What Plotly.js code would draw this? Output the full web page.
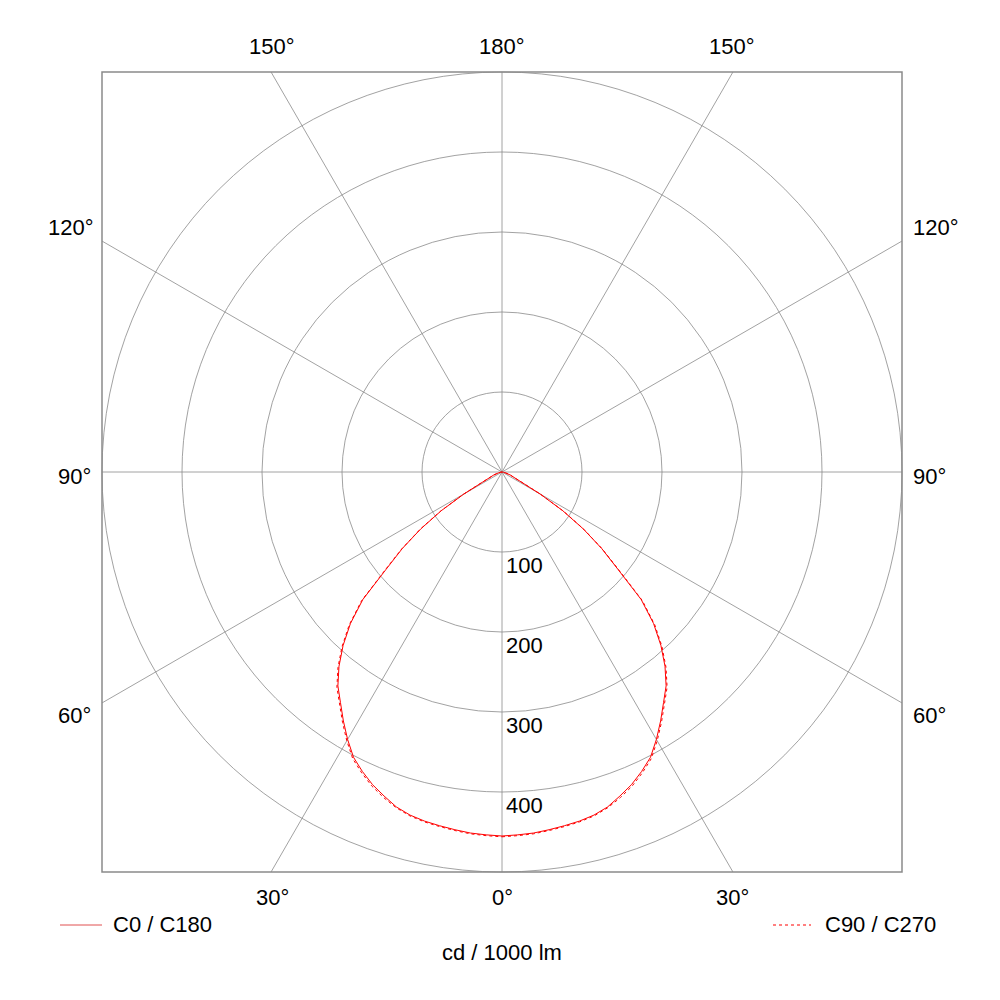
<!DOCTYPE html>
<html>
<head>
<meta charset="utf-8">
<script src="https://cdn.plot.ly/plotly-3.0.1.min.js"></script>
<style>html,body{margin:0;padding:0;background:#fff;}#chart{width:1000px;height:1000px;}</style>
</head>
<body>
<div id="chart"></div>
<script>
// Gamma angles (degrees) and luminous intensity (cd / 1000 lm)
const gamma = [0, 2.5, 5, 7.5, 10, 12.5, 15, 17.5, 20, 22.5, 25, 27.5, 30, 32.5, 35, 37.5, 40, 42.5, 45, 47.5, 50, 52.5, 55, 57.5, 60, 62.5, 65, 70, 75, 80, 85, 90, 120, 150, 180];
const c0c180 = [455, 454, 453, 451, 449, 447, 444, 439, 431, 423, 413, 402, 386, 369, 352, 337, 317, 294, 268, 236, 189, 157, 124, 90, 55, 27, 18, 11, 5, 2, 0, 0, 0, 0, 0];
const c90c270 = [456, 455, 454, 452, 450, 448, 445, 440, 433, 425, 415, 404, 388, 371, 354, 339, 319, 296, 270, 238, 191, 158, 125, 91, 56, 28, 18, 11, 5, 2, 0, 0, 0, 0, 0];
const radialTicks = [100, 200, 300, 400];
const spokeAngles = [0, 30, 60, 90, 120, 150, 180, 210, 240, 270, 300, 330];
const seriesNames = ["C0 / C180", "C90 / C270"];
const unitLabel = "cd / 1000 lm";
const rMax = 500;

// full 360° curve: one half-plane + mirrored other half-plane
function fullCurve(vals) {
  const th = [], r = [];
  for (let i = 0; i < gamma.length; i++) { th.push(gamma[i]); r.push(vals[i]); }
  for (let i = gamma.length - 2; i >= 0; i--) { th.push(360 - gamma[i]); r.push(vals[i]); }
  return {th, r};
}
const a = fullCurve(c0c180), b = fullCurve(c90c270);

const L = 102, T = 72, S = 800;
const px = x => (x - L) / S;
const py = y => (T + S - y) / S;
const FONT = {family: "Liberation Sans, Arial, Helvetica, sans-serif", size: 22, color: "#000"};

const traces = [
  {type: "scatterpolar", theta: b.th, r: b.r, mode: "lines", name: seriesNames[1],
   line: {color: "#ff0000", width: 1, dash: "dot"}, showlegend: false, hoverinfo: "skip"},
  {type: "scatterpolar", theta: a.th, r: a.r, mode: "lines", name: seriesNames[0],
   line: {color: "#ff0000", width: 1}, showlegend: false, hoverinfo: "skip"}
];

const shapes = [];
// box
shapes.push({type: "rect", xref: "paper", yref: "paper", x0: 0, y0: 0, x1: 1, y1: 1,
  line: {color: "#8a8a8a", width: 1.5}, layer: "above"});
// spokes from centre to box edge
spokeAngles.forEach(ang => {
  const t = ang * Math.PI / 180;
  const dx = Math.sin(t), dy = -Math.cos(t); // paper direction (0 = down)
  const k = 0.5 / Math.max(Math.abs(dx), Math.abs(dy));
  shapes.push({type: "line", xref: "paper", yref: "paper", x0: 0.5, y0: 0.5,
    x1: 0.5 + dx * k, y1: 0.5 + dy * k, line: {color: "#8a8a8a", width: 0.8}, layer: "below"});
});
// legend lines
shapes.push({type: "line", xref: "paper", yref: "paper", x0: px(60), x1: px(102), y0: py(925), y1: py(925),
  line: {color: "#e05050", width: 1}});
shapes.push({type: "line", xref: "paper", yref: "paper", x0: px(773), x1: px(811), y0: py(925), y1: py(925),
  line: {color: "#ff0000", width: 1, dash: "dot"}});

const ann = [];
function addText(text, x, y, xa, ya) {
  ann.push({text, xref: "paper", yref: "paper", x: px(x), y: py(y), xanchor: xa, yanchor: ya,
    showarrow: false, font: FONT});
}
radialTicks.forEach(v => addText(String(v), 504, 472 + v * S / 2 / rMax + 13, "left", "middle"));
// angle labels
addText("150°", 272, 46, "center", "middle");
addText("180°", 502, 46, "center", "middle");
addText("150°", 732, 46, "center", "middle");
addText("120°", 96, 228, "right", "middle");
addText("90°", 93, 476, "right", "middle");
addText("60°", 93, 715, "right", "middle");
addText("120°", 911, 228, "left", "middle");
addText("90°", 911, 476, "left", "middle");
addText("60°", 911, 715, "left", "middle");
addText("30°", 272, 897, "center", "middle");
addText("0°", 502, 897, "center", "middle");
addText("30°", 732, 897, "center", "middle");
// legend texts and unit
addText(seriesNames[0], 111, 925, "left", "middle");
addText(seriesNames[1], 823, 925, "left", "middle");
addText(unitLabel, 502, 952, "center", "middle");

const layout = {
  width: 1000, height: 1000,
  margin: {l: L, r: 1000 - L - S, t: T, b: 1000 - T - S, pad: 0},
  paper_bgcolor: "#fff",
  showlegend: false,
  polar: {
    domain: {x: [0, 1], y: [0, 1]},
    bgcolor: "rgba(0,0,0,0)",
    radialaxis: {range: [0, rMax], tickvals: [100, 200, 300, 400], showticklabels: false, ticks: "",
      showline: false, showgrid: true, gridcolor: "#8a8a8a", gridwidth: 0.8},
    angularaxis: {rotation: -90, direction: "counterclockwise", showticklabels: false, ticks: "",
      showgrid: false, showline: true, linecolor: "#8a8a8a", linewidth: 0.8}
  },
  shapes, annotations: ann
};

Plotly.newPlot("chart", traces, layout, {staticPlot: true, displayModeBar: false});
</script>
</body>
</html>
